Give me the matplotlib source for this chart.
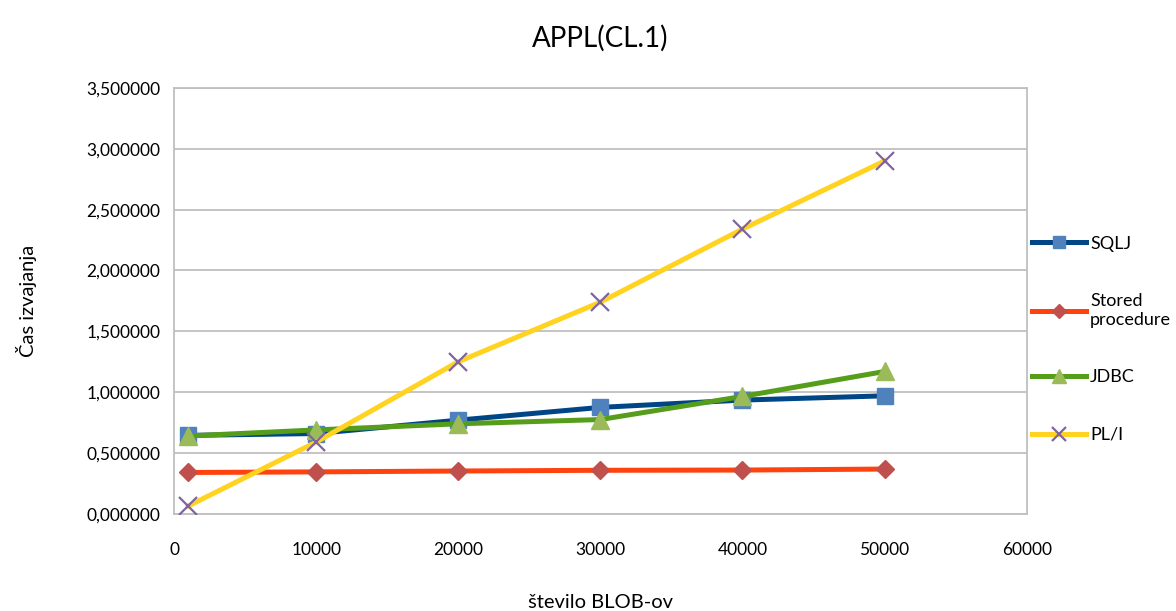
import matplotlib.pyplot as plt
from matplotlib.ticker import FuncFormatter

plt.rcParams['font.family'] = ['Lato', 'DejaVu Sans']

blobs = [1000, 10000, 20000, 30000, 40000, 50000]
sqlj = [0.645, 0.660, 0.770, 0.875, 0.935, 0.970]
stored = [0.340, 0.345, 0.352, 0.358, 0.360, 0.368]
jdbc = [0.640, 0.690, 0.740, 0.775, 0.965, 1.170]
pli = [0.065, 0.590, 1.250, 1.740, 2.340, 2.900]

fig = plt.figure(figsize=(11.76, 6.11), dpi=100)
ax = fig.add_axes([0.148, 0.159, 0.725, 0.697])

ax.plot(blobs, sqlj, color='#004586', lw=3.6, marker='s', ms=12,
        mfc='#4F81BD', mec='#4F81BD', label='SQLJ', zorder=3)
ax.plot(blobs, stored, color='#FF420E', lw=3.6, marker='D', ms=9,
        mfc='#C0504D', mec='#C0504D', label='Stored\nprocedure', zorder=3)
ax.plot(blobs, jdbc, color='#579D1C', lw=3.6, marker='^', ms=13,
        mfc='#9BBB59', mec='#9BBB59', label='JDBC', zorder=3)
ax.plot(blobs, pli, color='#FFD320', lw=3.6, marker='x', ms=13, mew=1.6,
        mfc='#8064A2', mec='#8064A2', label='PL/I', zorder=3)

ax.set_xlim(0, 60000)
ax.set_ylim(0, 3.5)
ax.set_xticks(range(0, 60001, 10000))
ax.set_yticks([i * 0.5 for i in range(8)])
ax.yaxis.set_major_formatter(FuncFormatter(lambda v, p: f'{v:.6f}'.replace('.', ',')))
ax.tick_params(length=0, labelsize=12.5, pad=10)
ax.tick_params(axis='x', pad=20)
ax.grid(axis='y', color='#BFBFBF', lw=1.3)
ax.set_axisbelow(True)
for s in ax.spines.values():
    s.set_color('#BFBFBF')
    s.set_linewidth(1.3)

ax.set_title('APPL(CL.1)', fontsize=20, pad=30)
ax.set_xlabel('število BLOB-ov', fontsize=14.5, labelpad=26)
ax.set_ylabel('Čas izvajanja', fontsize=14.5, labelpad=35)

ax.legend(loc='center left', bbox_to_anchor=(0.998, 0.41), frameon=False,
          fontsize=13, handlelength=3.0, handletextpad=0.2, markerscale=0.75,
          labelspacing=2.3, borderaxespad=0)

fig.savefig('out.png', dpi=100)
